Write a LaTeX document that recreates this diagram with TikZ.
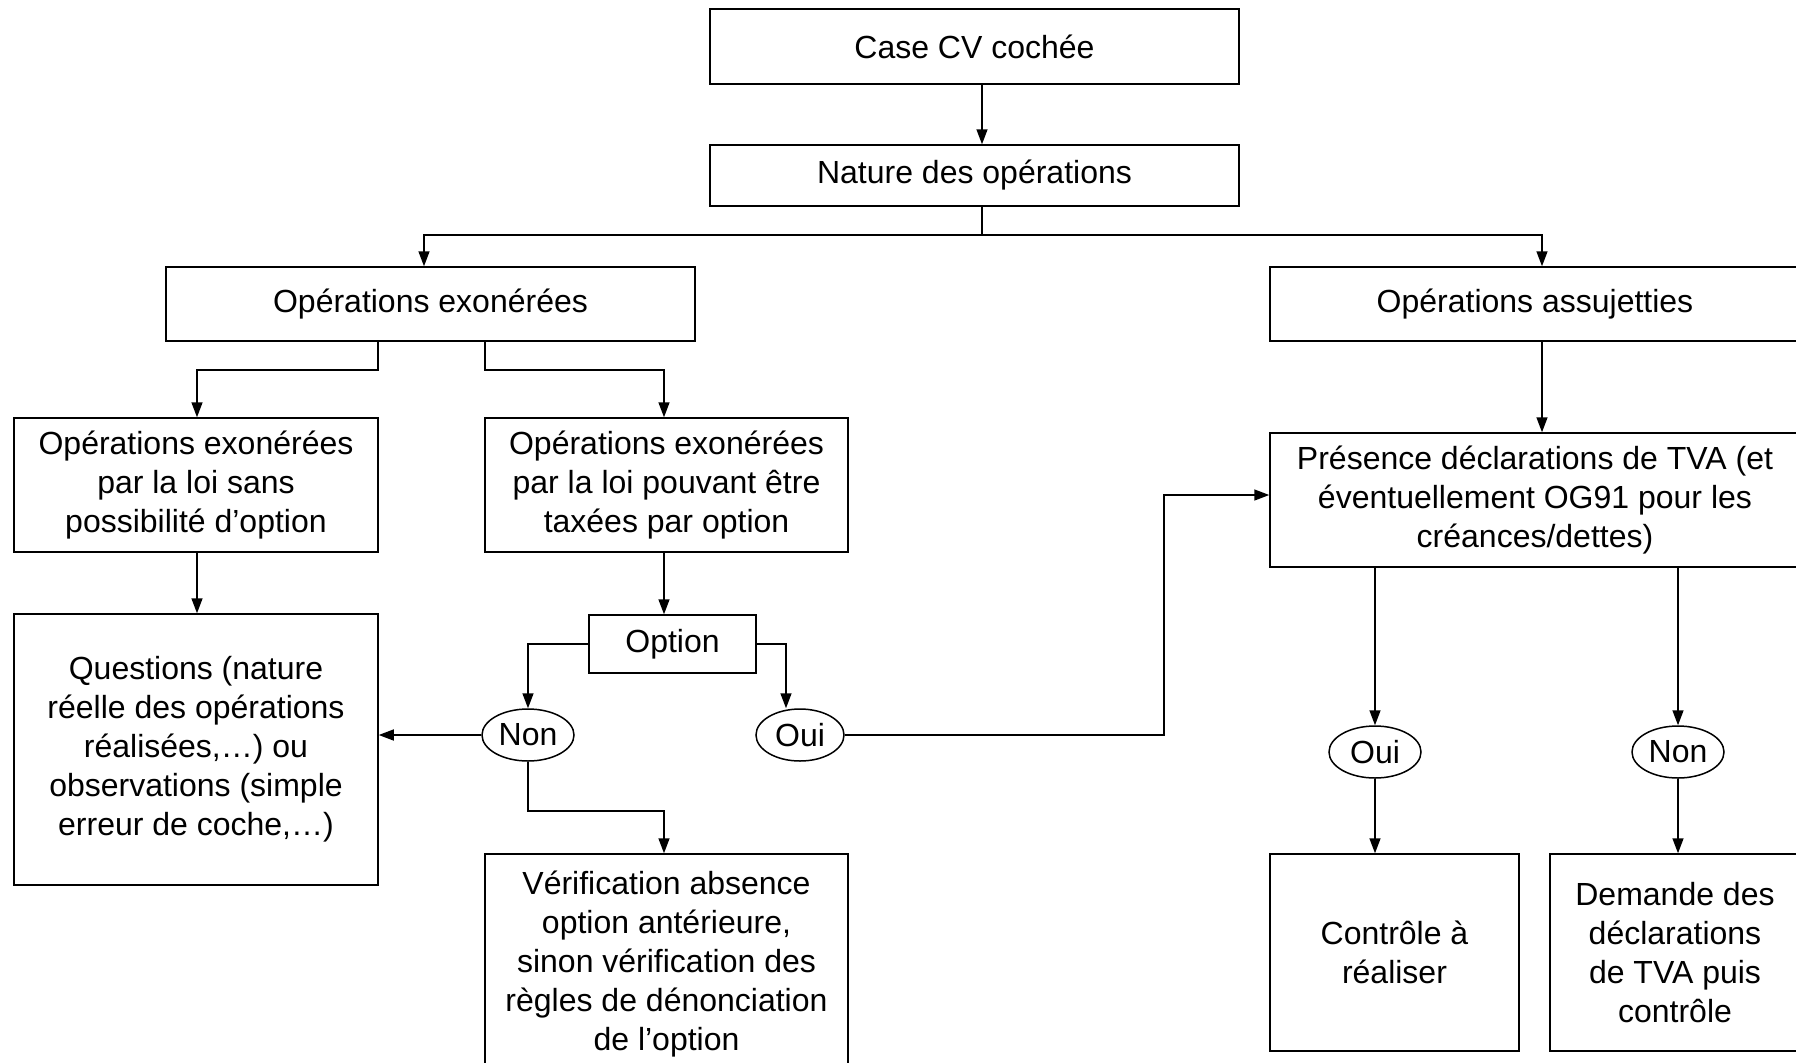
\documentclass[tikz,border=0pt]{standalone}
\usepackage{fontspec}
\setmainfont{Liberation Sans}
\usetikzlibrary{arrows.meta,shapes.geometric}
\begin{document}
\begin{tikzpicture}[x=0.5pt,y=-0.5pt,
  every node/.style={font=\fontsize{16pt}{19.5pt}\selectfont},
  box/.style={draw,rectangle,line width=0.75pt,inner sep=0pt,align=center},
  oval/.style={draw,ellipse,line width=0.75pt,inner sep=0pt,align=center},
  conn/.style={line width=0.75pt},
  arr/.style={conn,-{Triangle[length=7.5pt,width=5.5pt]}}]
\useasboundingbox[fill=white] (0,0) rectangle (1796,1062);
\newcommand\bbox[6]{\node[box, minimum width={(#4-#2)*0.5pt}, minimum height={(#5-#3)*0.5pt}] (#1) at ({(#2+#4)/2},{(#3+#5)/2}) {#6};}
% boxes
\bbox{case}{710}{9}{1239}{84}{Case CV cochée}
\bbox{nature}{710}{145}{1239}{206}{Nature des opérations}
\bbox{exo}{166}{267}{695}{341}{Opérations exonérées}
\bbox{assu}{1270}{267}{1800}{341}{Opérations assujetties}
\bbox{sans}{14}{418}{378}{552}{Opérations exonérées\\par la loi sans\\possibilité d’option}
\bbox{pouv}{485}{418}{848}{552}{Opérations exonérées\\par la loi pouvant être\\taxées par option}
\bbox{quest}{14}{614}{378}{885}{Questions (nature\\réelle des opérations\\réalisées,…) ou\\observations (simple\\erreur de coche,…)}
\bbox{opt}{589}{615}{756}{673}{Option}
\bbox{verif}{485}{854}{848}{1074}{Vérification absence\\option antérieure,\\sinon vérification des\\règles de dénonciation\\de l’option}
\bbox{pres}{1270}{433}{1800}{567}{Présence déclarations de TVA (et\\éventuellement OG91 pour les\\créances/dettes)}
\bbox{ctrl}{1270}{854}{1519}{1051}{Contrôle à\\réaliser}
\bbox{dem}{1550}{854}{1800}{1051}{Demande des\\déclarations\\de TVA puis\\contrôle}
% ovals
\node[oval, minimum width=46pt, minimum height=26pt] (non) at (528,735) {Non};
\node[oval, minimum width=44pt, minimum height=26pt] (oui) at (800,735) {Oui};
\node[oval, minimum width=46pt, minimum height=26pt] (oui2) at (1375,752) {Oui};
\node[oval, minimum width=46pt, minimum height=26pt] (non2) at (1678,752) {Non};
% helper coordinates
\coordinate (split) at (982,235);
% connectors
\draw[arr] (case.south -| split) -- (nature.north -| split);
\draw[conn] (nature.south -| split) -- (split);
\draw[arr] (split) -| (exo.north -| 424,0);
\draw[arr] (split) -| (assu.north -| 1542,0);
\draw[arr] (exo.south -| 378,0) |- (197,370) -- (sans.north -| 197,0);
\draw[arr] (exo.south -| 485,0) |- (664,370) -- (pouv.north -| 664,0);
\draw[arr] (sans.south -| 197,0) -- (quest.north -| 197,0);
\draw[arr] (pouv.south -| 664,0) -- (opt.north -| 664,0);
\draw[arr] (opt.west) -| (non.north);
\draw[arr] (opt.east) -| ([xshift=-7pt]oui.north);
\draw[arr] (non.west) -- (quest.east |- non.west);
\draw[arr] (non.south) |- (664,811) -- (verif.north -| 664,0);
\draw[arr] (oui.east) -| (1164,495) -- (pres.west |- 0,495);
\draw[arr] (assu.south -| 1542,0) -- (pres.north -| 1542,0);
\draw[arr] (pres.south -| oui2.north) -- (oui2.north);
\draw[arr] (pres.south -| non2.north) -- (non2.north);
\draw[arr] (oui2.south) -- (ctrl.north -| oui2.south);
\draw[arr] (non2.south) -- (dem.north -| non2.south);
\end{tikzpicture}
\end{document}
